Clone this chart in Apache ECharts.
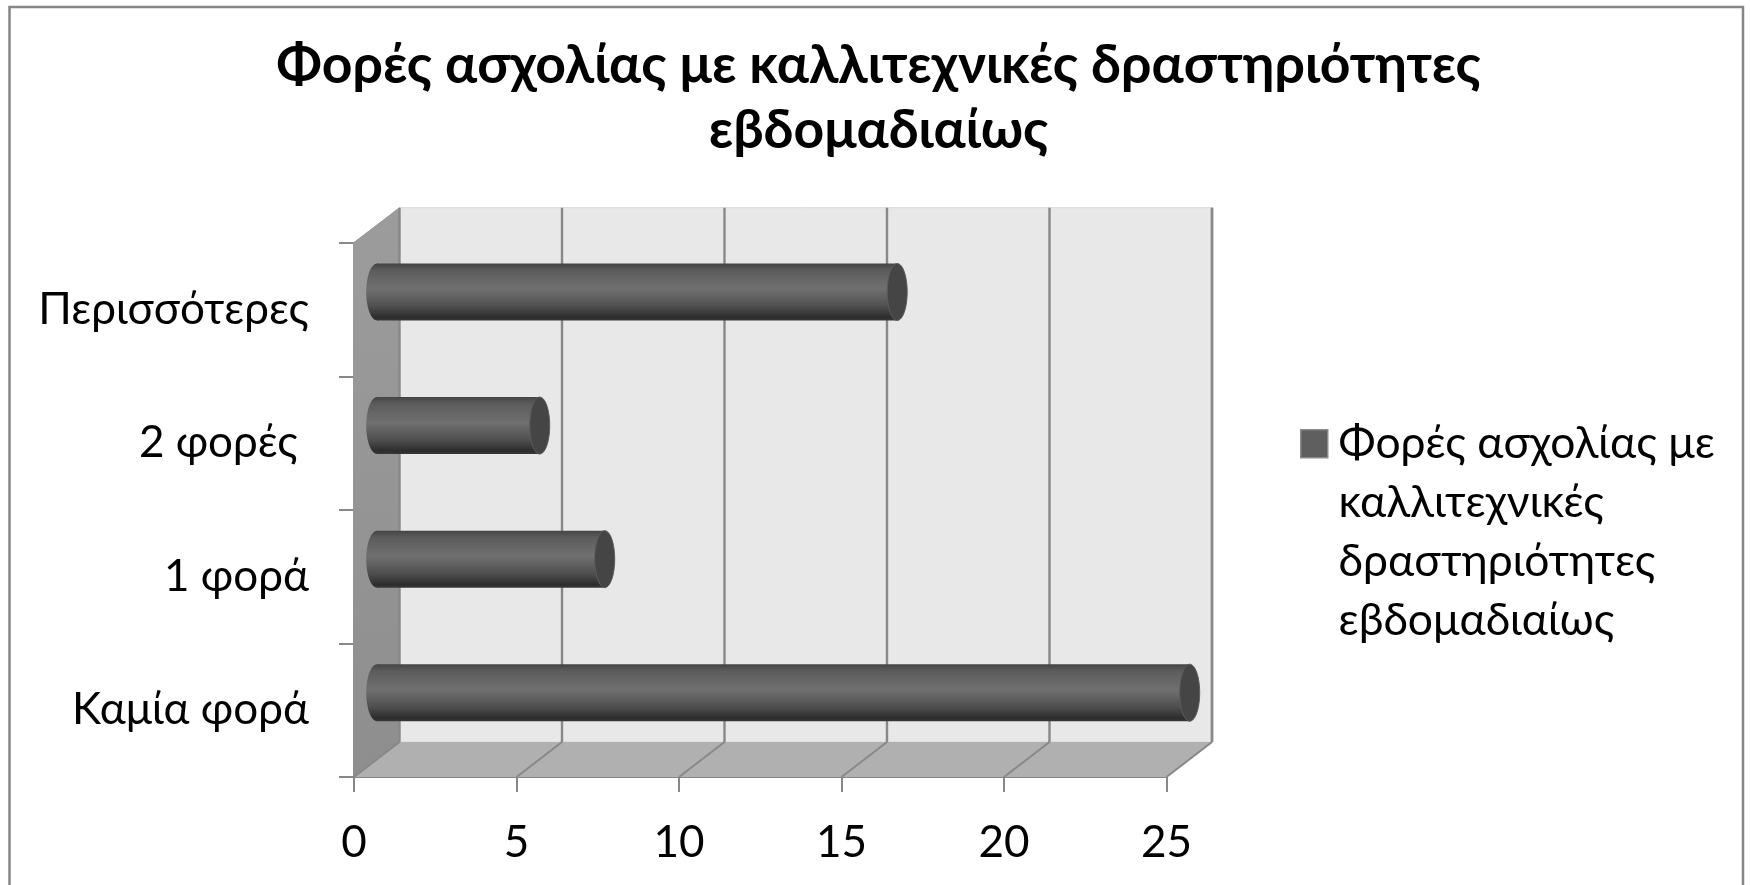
<!DOCTYPE html>
<html><head><meta charset="utf-8">
<style>html,body{margin:0;padding:0;background:#fff}#c{width:1750px;height:885px}</style>
<script src="https://cdn.jsdelivr.net/npm/echarts@6/dist/echarts.min.js"></script>
</head><body><div id="c"></div>
<script>
const categories = ['Καμία φορά', '1 φορά', '2 φορές ', 'Περισσότερες'];
const values = [25, 7, 5, 16];
const gridTicks = [0, 5, 10, 15, 20, 25];
const titleText = 'Φορές ασχολίας με καλλιτεχνικές δραστηριότητες\nεβδομαδιαίως';
const seriesName = 'Φορές ασχολίας με καλλιτεχνικές δραστηριότητες εβδομαδιαίως';
const legendLines = ['Φορές ασχολίας με', 'καλλιτεχνικές', 'δραστηριότητες', 'εβδομαδιαίως'];
const FONT = 'Lato, Carlito, "Open Sans", sans-serif';
const DX = 45.5, DY = -35, BARDX = 23.2, BARDY = -17.5, BARH = 57, CAPRX = 10;
const LINE = '#888888';

const chart = echarts.init(document.getElementById('c'), null, {renderer: 'canvas'});

function wallsItem(params, api) {
  const c = params.coordSys;
  const L = c.x, R = c.x + c.width, T = c.y, B = c.y + c.height;
  const children = [
    {type: 'rect', shape: {x: L + DX, y: T + DY, width: c.width, height: c.height},
     style: {fill: '#e8e8e8', stroke: '#d9d9d9', lineWidth: 1}},
    {type: 'polygon', shape: {points: [[L, B], [L + DX, B + DY], [R + DX, B + DY], [R, B]]},
     style: {fill: '#b0b0b0'}},
    {type: 'polygon', shape: {points: [[L - 1, T], [L + DX, T + DY], [L + DX, B + DY], [L - 1, B]]},
     style: {fill: new echarts.graphic.LinearGradient(0, 0, 0, 1, [{offset: 0, color: '#9c9c9c'}, {offset: 1, color: '#8e8e8e'}])}},
    {type: 'line', shape: {x1: R + DX, y1: T + DY, x2: R + DX, y2: B + DY}, style: {stroke: LINE, lineWidth: 2.4}},
    {type: 'line', shape: {x1: L, y1: T, x2: L + DX, y2: T + DY}, style: {stroke: '#9a9a9a', lineWidth: 1}}
  ];
  return {type: 'group', children};
}
function gridItem(params, api) {
  const c = params.coordSys;
  const x = api.coord([api.value(0), 0])[0];
  const B = c.y + c.height, T = c.y;
  return {type: 'group', children: [
    {type: 'line', shape: {x1: x, y1: B, x2: x + DX, y2: B + DY}, style: {stroke: LINE, lineWidth: 2}},
    {type: 'line', shape: {x1: x + DX, y1: B + DY, x2: x + DX, y2: T + DY}, style: {stroke: LINE, lineWidth: 2.4}}
  ]};
}
function barItem(params, api) {
  const p0 = api.coord([0, api.value(1)]);
  const p1 = api.coord([api.value(0), api.value(1)]);
  const x0 = p0[0] + BARDX, x1 = p1[0] + BARDX, cy = p0[1] + BARDY;
  const top = cy - BARH / 2;
  const grad = () => new echarts.graphic.LinearGradient(0, 0, 0, 1, [
    {offset: 0, color: '#444444'}, {offset: 0.12, color: '#5c5c5c'}, {offset: 0.45, color: '#707070'},
    {offset: 0.75, color: '#4f4f4f'}, {offset: 0.95, color: '#2c2c2c'}, {offset: 1, color: '#3a3a3a'}]);
  return {type: 'group', children: [
    {type: 'ellipse', shape: {cx: x0, cy: cy, rx: CAPRX + 1, ry: BARH / 2}, style: {fill: grad()}},
    {type: 'rect', shape: {x: x0, y: top, width: x1 - x0, height: BARH}, style: {fill: grad()}},
    {type: 'ellipse', shape: {cx: x1, cy: cy, rx: CAPRX, ry: BARH / 2},
     style: {fill: '#454545', stroke: '#5c5c5c', lineWidth: 1}}
  ]};
}

chart.setOption({
  animation: false,
  backgroundColor: '#fff',
  title: {text: titleText, left: 873.5, top: 28, textAlign: 'center',
    textStyle: {fontFamily: FONT, fontSize: 53.5, fontWeight: 'bold', color: '#000', lineHeight: 65}},
  legend: [
    {left: 1300, top: 429, padding: 0, itemWidth: 27, itemHeight: 28, icon: 'rect',
     data: [seriesName], selectedMode: false, formatter: () => ' ',
     itemStyle: {color: '#5f5f5f', borderColor: '#8a8a8a', borderWidth: 1.5},
     textStyle: {fontFamily: FONT, fontSize: 10}},
    {left: 1305.5, top: 414, padding: 0, itemWidth: 28, itemHeight: 236, icon: 'none',
     data: [seriesName], selectedMode: false, formatter: () => legendLines.join('\n'),
     textStyle: {fontFamily: FONT, fontSize: 44.4, color: '#000', lineHeight: 59}}
  ],
  grid: {left: 354, width: 812.5, top: 242.7, height: 534.3},
  xAxis: {type: 'value', min: 0, max: 25, interval: 5,
    axisLine: {show: true, lineStyle: {color: LINE, width: 2}},
    axisTick: {show: true, length: 15, lineStyle: {color: LINE, width: 2}},
    splitLine: {show: false},
    axisLabel: {fontFamily: FONT, fontSize: 44, color: '#000', margin: 44}},
  yAxis: {type: 'category', data: categories,
    axisLine: {show: true, onZero: false, lineStyle: {color: LINE, width: 2}},
    axisTick: {show: true, length: 15, alignWithLabel: false, lineStyle: {color: LINE, width: 2}},
    axisLabel: {fontFamily: FONT, fontSize: 44, color: '#000', margin: 45, padding: [10, 0, 0, 0]}},
  graphic: [{type: 'polyline', silent: true, z: -1,
    shape: {points: [[9.5, 900], [9.5, 7], [1743, 7], [1743, 900]]},
    style: {stroke: '#868686', lineWidth: 2.5, fill: null}}],
  series: [
    {type: 'custom', name: 'walls', coordinateSystem: 'cartesian2d', data: [[0, 0]], renderItem: wallsItem, z: 1, silent: true, clip: false},
    {type: 'custom', name: 'grid', coordinateSystem: 'cartesian2d', data: gridTicks.map(t => [t, 0]), renderItem: gridItem, z: 1, silent: true, clip: false},
    {type: 'custom', name: seriesName, coordinateSystem: 'cartesian2d', data: values.map((v, i) => [v, i]),
     renderItem: barItem, z: 3, silent: true, clip: false, encode: {x: 0, y: 1}, itemStyle: {color: '#5f5f5f'}}
  ]
});
</script></body></html>
